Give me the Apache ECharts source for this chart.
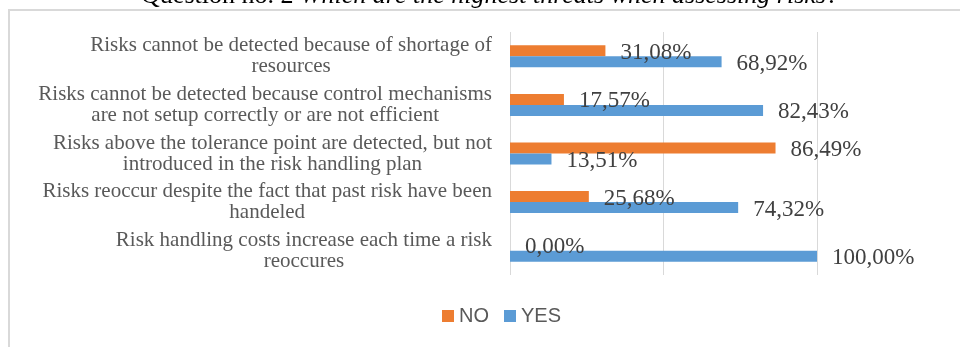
<!DOCTYPE html>
<html>
<head>
<meta charset="utf-8">
<script src="https://cdn.jsdelivr.net/npm/echarts@6/dist/echarts.min.js"></script>
<style>
  html, body { margin: 0; padding: 0; background: #fff; }
  #chart { width: 960px; height: 347px; }
</style>
</head>
<body>
<div id="chart"></div>
<script>
// categories top to bottom
const categories = [
  'Risks cannot be detected because of shortage of\nresources',
  'Risks cannot be detected because control mechanisms\nare not setup correctly or are not efficient',
  'Risks above the tolerance point are detected, but not\nintroduced in the risk handling plan',
  'Risks reoccur despite the fact that past risk have been\nhandeled',
  'Risk handling costs increase each time a risk\nreoccures'
]
const noValues = [31.08, 17.57, 86.49, 25.68, 0]
const yesValues = [68.92, 82.43, 13.51, 74.32, 100]
const xTicks = [0, 50, 100]

const serif = '"Liberation Serif", "Times New Roman", serif'
const pct = (v) => v.toFixed(2).replace('.', ',') + '%'

const chart = echarts.init(document.getElementById('chart'))

const barLabel = (dy) => ({
  show: true,
  position: 'right',
  distance: 15,
  offset: [0, dy],
  fontFamily: serif,
  fontSize: 23,
  color: '#404040',
  formatter: (p) => pct(p.value),
})

chart.setOption({
  animation: false,
  graphic: [
    {
      type: 'rect',
      x: 9,
      y: 10,
      shape: { width: 1000, height: 400 },
      style: { fill: 'none', stroke: '#d9d9d9', lineWidth: 2 },
      z: -1,
    },
    {
      type: 'text',
      x: 490,
      y: 9,
      style: {
        text: '{n|Question no. 2 }{i|Which are the highest threats when assessing risks?}',
        align: 'center',
        verticalAlign: 'bottom',
        fill: '#000',
        rich: {
          n: { fontFamily: serif, fontSize: 26, fill: '#000' },
          i: { fontFamily: serif, fontSize: 26, fontStyle: 'italic', fill: '#000' },
        },
      },
    },
  ],
  legend: {
    data: ['NO', 'YES'],
    left: 437,
    top: 301,
    icon: 'rect',
    itemWidth: 12,
    itemHeight: 12,
    itemGap: 15,
    textStyle: {
      fontFamily: '"Liberation Sans", Arial, sans-serif',
      fontSize: 20,
      color: '#595959',
    },
  },
  grid: {
    left: 510,
    top: 32,
    width: 307,
    height: 243,
    containLabel: false,
  },
  xAxis: {
    type: 'value',
    min: xTicks[0],
    max: xTicks[xTicks.length - 1],
    interval: 50,
    axisLabel: { show: false },
    axisLine: { show: false },
    axisTick: { show: false },
    splitLine: { show: true, lineStyle: { color: '#d9d9d9', width: 1 } },
  },
  yAxis: {
    type: 'category',
    inverse: true,
    data: categories,
    axisLine: { show: false },
    axisTick: { show: false },
    axisLabel: {
      margin: 18,
      formatter: (v) => v.split('\n').map((s) => '{c|' + s + '}').join('\n'),
      rich: {
        c: {
          align: 'center',
          fontFamily: serif,
          fontSize: 21,
          lineHeight: 21,
          color: '#595959',
        },
      },
    },
  },
  series: [
    {
      name: 'NO',
      type: 'bar',
      data: noValues,
      barWidth: 11,
      barGap: '0%',
      itemStyle: { color: '#ed7d31' },
      label: barLabel(2),
    },
    {
      name: 'YES',
      type: 'bar',
      data: yesValues,
      barWidth: 11,
      barGap: '0%',
      itemStyle: { color: '#5b9bd5' },
      label: barLabel(2),
    },
  ],
})
</script>
</body>
</html>
